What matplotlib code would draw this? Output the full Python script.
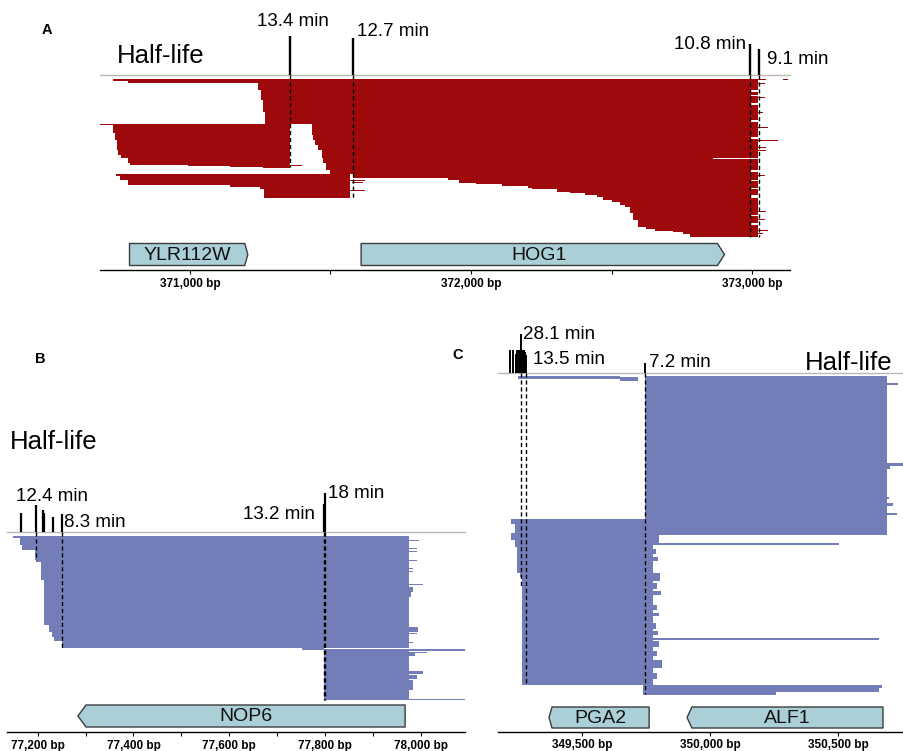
import numpy as np
import matplotlib
matplotlib.use("Agg")
import matplotlib.pyplot as plt
from matplotlib.patches import Polygon

plt.rcParams["font.family"] = ["Liberation Sans", "DejaVu Sans"]

W, H = 904, 751
RED, BLUE = "#9e0a0b", "#737eb9"
GENE_FC, GENE_EC = "#aacfd6", "#3c3c3c"
BASE = "#bdb8b2"

# ================= data =================
# --- A: HOG1 locus ---
A_xlim = (370680, 373135)
A_hl_pos = [371356, 371580, 372993, 373025]
A_hl_min = [13.4, 12.7, 10.8, 9.1]
A_hl_lab = ["13.4 min", "12.7 min", "10.8 min", "9.1 min"]
A_hl_depth = [92, 123, 162, 162]          # rows of reads under each site
A_start = [370726, 370779, 371242, 371253, 371260, 371267, 370680,
           370726, 370733, 370740, 370744, 370754, 370779, 370786, 370993, 371142, 371260, 371356,
           371434, 371438, 371445, 371456, 371470, 371473, 371473, 371484, 371498,
           370737, 370751, 370779, 371142, 371249, 371263,
           371580, 371918, 371957, 372018, 372110, 372203, 372217, 372306, 372352, 372406,
           372449, 372470, 372502, 372530, 372548, 372566, 372577, 372594, 372623, 372655,
           372719, 372755, 372780,
           371545, 371577, 371523,
           372990, 372990, 372990, 372990, 372990, 372990, 372990, 372990, 372990, 372990,
           372990, 372990, 372990, 373110,
           372990, 372990, 372990, 372990, 372990, 372990, 372990, 372990, 372990, 372990,
           372990, 372990, 372990]
A_end = [372995, 372995, 372995, 372995, 372995, 372995, 371356,
         371356, 371356, 371356, 371356, 371356, 371356, 371356, 371356, 371356, 371356, 371399,
         372995, 372995, 372995, 372995, 372995, 372861, 372995, 372995, 372995,
         371569, 371569, 371569, 371569, 371569, 371569,
         372995, 372995, 372995, 372995, 372995, 372995, 372995, 372995, 372995, 372995,
         372995, 372995, 372995, 372995, 372995, 372995, 372995, 372995, 372995, 372995,
         372995, 372995, 372995,
         371623, 371616, 371623,
         373050, 373046, 373046, 373039, 373057, 373093, 373050, 373050, 373046, 373050,
         373046, 373057, 373039, 373128,
         373020, 373020, 373020, 373020, 373020, 373020, 373020, 373020, 373020, 373020,
         373020, 373020, 373020]
A_row = [4, 5.5, 7.5, 15, 25, 37, 49,
         50, 58, 65, 75, 80, 83, 88, 89.5, 90.5, 91.5, 90,
         49, 60, 65, 70, 75, 83, 84, 88, 95,
         99, 101, 105, 110, 112, 114,
         98, 103, 105, 108, 109, 111, 113, 114, 117, 118,
         120, 122, 125, 127, 130, 132, 138, 145, 152, 154,
         156, 157, 159,
         105, 107, 115,
         4, 8, 22, 37, 52, 65, 72, 75, 100, 136,
         144, 155, 158, 3.5,
         4, 17, 21, 30, 47, 64, 84, 97, 106, 114,
         123, 141, 150]
A_nrow = [1.5, 2, 7.5, 10, 12, 12, 1,
          8, 7, 10, 5, 3, 5, 1.5, 1, 1, 1, 0.8,
          11, 5, 5, 5, 8, 1, 4, 7, 4,
          2, 4, 5, 2, 2, 9,
          5, 2, 3, 1, 2, 2, 1, 3, 1, 2,
          2, 3, 2, 3, 2, 6, 7, 7, 2, 2,
          1, 2, 3,
          0.8, 0.8, 0.8,
          1, 1, 1, 1, 1, 1, 1, 1, 1, 1,
          1, 1, 1, 0.8,
          11, 3, 7, 15, 15, 19, 11, 8, 7, 6,
          17, 7, 12]
A_genes = ["YLR112W", "HOG1"]
A_gene_start = [370785, 371609]
A_gene_end = [371206, 372902]
A_gene_strand = [1, 1]
A_gene_tip = [11, 25]
A_ticks = [371000, 371500, 372000, 372500, 373000]
A_ticklab = ["371,000 bp", "", "372,000 bp", "", "373,000 bp"]

# --- B: NOP6 locus ---
B_xlim = (77136, 78092)
B_hl_pos = [77165, 77196, 77211, 77213, 77232, 77251, 77798, 77800]
B_hl_min = [8.8, 12.4, 10.3, 8.8, 6.9, 8.3, 13.2, 18.0]
B_hl_lab = ["", "12.4 min", "", "", "", "8.3 min", "13.2 min", "18 min"]
B_hl_depth = [0, 28, 0, 0, 0, 116, 168, 168]
B_start = [77148, 77163, 77167, 77194, 77196, 77207, 77213, 77224, 77230, 77234, 77251, 77752,
           77965, 77965, 77965, 77965, 77965, 77965, 77965, 77965, 77965, 77965, 77965, 77965,
           77797, 77797, 77965, 77965, 77965, 77965, 77965, 77797]
B_end = [77975, 77975, 77975, 77975, 77975, 77975, 77975, 77975, 77975, 77975, 77975, 77798,
         77996, 77992, 77992, 77992, 77984, 77984, 78004, 77984, 77980, 77994, 77992, 77984,
         77975, 78092, 78013, 77988, 78004, 77992, 77984, 78092]
B_row = [4, 6, 13, 18, 28, 30, 48, 93, 100, 105, 109, 116,
         8, 16, 19, 28, 36, 39, 52, 55, 60, 95, 101, 110,
         117, 117, 119.5, 121, 139, 143, 148, 166.5]
B_nrow = [2, 7, 5, 10, 2, 18, 45, 7, 5, 4, 7, 1.3,
          1, 1, 1, 1, 1, 1, 1, 5, 5, 5, 1, 1,
          51, 1.5, 1, 3, 3, 4, 10, 1.5]
B_genes = ["NOP6"]
B_gene_start = [77284]
B_gene_end = [77967]
B_gene_strand = [-1]
B_gene_tip = [17]
B_ticks = [77200, 77300, 77400, 77500, 77600, 77700, 77800, 77900, 78000]
B_ticklab = ["77,200 bp", "", "77,400 bp", "", "77,600 bp", "", "77,800 bp", "", "78,000 bp"]

# --- C: PGA2 / ALF1 locus ---
C_xlim = (349171, 350756)
C_hl_pos = [349219, 349229, 349243, 349247, 349252, 349256, 349259, 349264, 349268, 349272, 349276, 349279, 349745]
C_hl_min = [16.8, 16.6, 13.8, 16.5, 16.5, 17.0, 28.1, 17.0, 17.0, 16.5, 15.0, 13.5, 7.2]
C_hl_lab = ["", "", "", "", "", "", "28.1 min", "", "", "", "", "13.5 min", "7.2 min"]
C_hl_depth = [0, 0, 0, 0, 0, 0, 214, 0, 0, 0, 0, 312, 321]
C_start = [349249, 349647, 349745, 349776,
           350680, 350680, 350680, 350680, 350680, 350680,
           349221, 349237, 349221, 349237, 349244, 349257, 349263, 349266,
           349776, 349773,
           349770, 349770, 349770, 349770, 349770, 349770, 349770, 349770, 349770, 349770,
           349770, 349770, 349770, 349770,
           349738, 350650, 349738]
C_end = [349647, 349718, 350690, 350690,
         350733, 350752, 350702, 350698, 350712, 350728,
         349778, 349778, 349778, 349778, 349778, 349778, 349778, 349778,
         350502, 350658,
         349800, 349788, 349795, 349802, 349792, 349806, 349790, 349798, 349786, 349795,
         349800, 349792, 349810, 349790,
         350660, 350672, 350256]
C_row = [3, 3.5, 3, 146,
         10, 90, 93, 124, 130, 140,
         146, 151, 160, 167, 174, 200, 204, 214,
         170, 265,
         162, 176, 184, 200, 210, 218, 232, 240, 250, 258,
         268, 278, 287, 300,
         312, 312, 318.7]
C_nrow = [2.5, 4, 143, 16,
          1.3, 3, 3, 1.5, 2.5, 2,
          5, 9, 7, 7, 26, 4, 10, 98,
          2, 2,
          8, 5, 4, 8, 6, 4, 5, 3, 6, 4,
          6, 5, 8, 6,
          6.7, 3, 3.3]
C_genes = ["PGA2", "ALF1"]
C_gene_start = [349370, 349909]
C_gene_end = [349761, 350674]
C_gene_strand = [-1, -1]
C_gene_tip = [12, 19]
C_ticks = [349500, 350000, 350500]
C_ticklab = ["349,500 bp", "350,000 bp", "350,500 bp"]

# ================= layout (pixels) =================
LAY = {
    "A": dict(x0=100, x1=790, base=75.3, rows=165, axis=270, box=(4.5, 26.5), color=RED,
              letter=(47, 30), half=(117, 63, "left"), mlw=1.7,
              lab_off={"13.4 min": (2.8, 10, "center"), "12.7 min": (3.7, 2.3, "left"),
                       "10.8 min": (-4.3, -5.4, "right"), "9.1 min": (7.7, -15.2, "left")}),
    "B": dict(x0=7, x1=465, base=532.3, rows=170, axis=732, box=(5, 27), color=BLUE,
              letter=(40, 359), half=(10, 449, "left"), mlw=1.6,
              lab_off={"12.4 min": (-19.3, 4.7, "left"), "8.3 min": (2, -12.4, "left"),
                       "13.2 min": (-9, -15.6, "right"), "18 min": (3.3, -5, "left")}),
    "C": dict(x0=498, x1=904, base=373.3, rows=325, axis=731.7, box=(3.7, 24.7), color=BLUE,
              letter=(458, 355), half=(893, 370, "right"), mlw=1.4,
              lab_off={"28.1 min": (2.6, -5, "left"), "13.5 min": (7, -9.4, "left"),
                       "7.2 min": (4.3, -3.4, "left")}),
}

DATA = {
    "A": dict(xlim=A_xlim, hl_pos=A_hl_pos, hl_min=A_hl_min, hl_lab=A_hl_lab, depth=A_hl_depth,
              start=A_start, end=A_end, row=A_row, nrow=A_nrow, genes=A_genes, gs=A_gene_start,
              ge=A_gene_end, strand=A_gene_strand, tip=A_gene_tip, ticks=A_ticks, ticklab=A_ticklab),
    "B": dict(xlim=B_xlim, hl_pos=B_hl_pos, hl_min=B_hl_min, hl_lab=B_hl_lab, depth=B_hl_depth,
              start=B_start, end=B_end, row=B_row, nrow=B_nrow, genes=B_genes, gs=B_gene_start,
              ge=B_gene_end, strand=B_gene_strand, tip=B_gene_tip, ticks=B_ticks, ticklab=B_ticklab),
    "C": dict(xlim=C_xlim, hl_pos=C_hl_pos, hl_min=C_hl_min, hl_lab=C_hl_lab, depth=C_hl_depth,
              start=C_start, end=C_end, row=C_row, nrow=C_nrow, genes=C_genes, gs=C_gene_start,
              ge=C_gene_end, strand=C_gene_strand, tip=C_gene_tip, ticks=C_ticks, ticklab=C_ticklab),
}

fig = plt.figure(figsize=(W / 100, H / 100), dpi=100)


def px_axes(x0, y0, x1, y1):
    return fig.add_axes([x0 / W, 1 - y1 / H, (x1 - x0) / W, (y1 - y0) / H])


def draw_panel(key):
    d, L = DATA[key], LAY[key]
    x0, x1, base = L["x0"], L["x1"], L["base"]

    # half-life track
    ah = px_axes(x0, base - 39, x1, base)
    ah.set_xlim(d["xlim"]); ah.set_ylim(0, max(d["hl_min"])); ah.set_axis_off()
    ah.axhline(0, color=BASE, lw=1.0, clip_on=False)
    ah.vlines(d["hl_pos"], 0, d["hl_min"], color="black", lw=L["mlw"], clip_on=False)
    for pos, v, lab in zip(d["hl_pos"], d["hl_min"], d["hl_lab"]):
        if lab:
            dx, dy, ha = L["lab_off"][lab]
            ah.annotate(lab, (pos, v), xytext=(dx * 0.72, dy * 0.72), textcoords="offset points",
                        ha=ha, va="baseline", fontsize=13.5, annotation_clip=False)

    # reads
    ar = px_axes(x0, base, x1, base + L["rows"])
    ar.set_xlim(d["xlim"]); ar.set_ylim(L["rows"], 0); ar.set_axis_off()
    s, e = np.array(d["start"]), np.array(d["end"])
    r, n = np.array(d["row"], float), np.array(d["nrow"], float)
    ar.barh(r + n / 2, e - s, left=s, height=n, color=L["color"], lw=0, antialiased=False)
    dep = np.array(d["depth"])
    m = dep > 0
    ar.vlines(np.array(d["hl_pos"])[m], 0, dep[m], color="black", lw=1.0,
              linestyles=(0, (3, 2)))

    # gene track + coordinate axis
    ag = px_axes(x0, L["axis"] - 30, x1, L["axis"])
    ag.set_xlim(d["xlim"]); ag.set_ylim(0, 30)
    b, t = L["box"]
    mid = (b + t) / 2
    for name, gs, ge, st, tip in zip(d["genes"], d["gs"], d["ge"], d["strand"], d["tip"]):
        if st > 0:
            pts = [(gs, b), (ge - tip, b), (ge, mid), (ge - tip, t), (gs, t)]
            cx = (gs + ge - tip) / 2
        else:
            pts = [(ge, b), (gs + tip, b), (gs, mid), (gs + tip, t), (ge, t)]
            cx = (gs + tip + ge) / 2
        ag.add_patch(Polygon(pts, closed=True, fc=GENE_FC, ec=GENE_EC, lw=1.0))
        ag.text(cx, mid - 0.5, name, ha="center", va="center", fontsize=14, color="#111111")
    for sp in ("top", "left", "right"):
        ag.spines[sp].set_visible(False)
    ag.spines["bottom"].set_linewidth(1.0)
    ag.set_yticks([])
    ag.set_xticks(d["ticks"])
    ag.set_xticklabels(d["ticklab"], fontsize=8.5, fontweight="bold")
    ag.tick_params(axis="x", length=3, width=0.8, pad=2.5, direction="out")
    ag.patch.set_alpha(0)

    lx, ly = L["letter"]
    fig.text(lx / W, 1 - ly / H, key, fontsize=10.5, fontweight="bold", ha="center", va="center")
    hx, hy, hha = L["half"]
    fig.text(hx / W, 1 - hy / H, "Half-life", fontsize=18.5, ha=hha, va="baseline")


for k in ("A", "B", "C"):
    draw_panel(k)

fig.savefig("out.png", dpi=100, facecolor="white")
